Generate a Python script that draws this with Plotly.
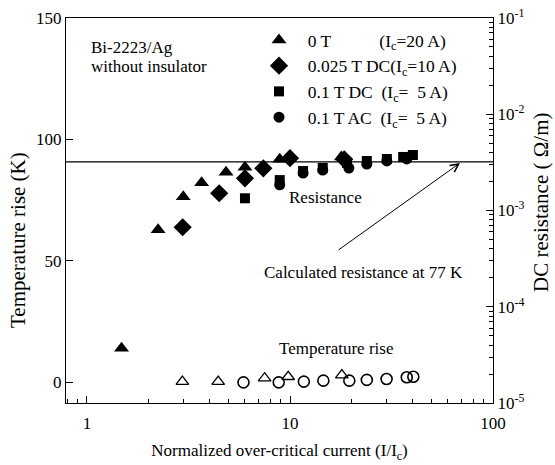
import plotly.graph_objects as go

# ---------------- data ----------------
# Resistance (filled markers, right log axis)
TRI_X_R = [1.48, 2.24, 2.98, 3.67, 4.84, 6.0, 8.9, 17.9]
TRI_R = [3.7e-5, 6.3e-4, 1.39e-3, 1.94e-3, 2.49e-3, 2.81e-3, 3.4e-3, 3.6e-3]

DIA_X_R = [2.96, 4.48, 6.0, 7.39, 10.0, 18.5]
DIA_R = [6.7e-4, 1.51e-3, 2.16e-3, 2.74e-3, 3.5e-3, 3.4e-3]

SQ_X_R = [6.0, 8.9, 11.6, 14.5, 19.1, 23.9, 30.0, 36.1, 40.3]
SQ_R = [1.34e-3, 2.07e-3, 2.57e-3, 2.77e-3, 3.12e-3, 3.27e-3, 3.43e-3, 3.6e-3, 3.77e-3]

CIR_X_R = [8.9, 11.6, 14.5, 19.5, 23.9, 30.0, 37.6]
CIR_R = [1.85e-3, 2.45e-3, 2.63e-3, 2.76e-3, 3.04e-3, 3.27e-3, 3.43e-3]

# Temperature rise (open markers, left linear axis)
TRI_X_T = [2.95, 4.43, 7.5, 9.8, 18.0]
TRI_T = [0.3, 0.3, 1.7, 2.3, 3.0]

CIR_X_T = [5.9, 8.8, 11.7, 14.6, 19.6, 23.9, 29.9, 37.6, 40.5]
CIR_T = [0.0, 0.0, 0.3, 0.7, 0.7, 1.0, 1.4, 2.1, 2.3]

CALC_R = 3.2e-3  # calculated resistance at 77 K

NB = "\u00a0"
SERIES_NAMES = [
    NB * 2 + "0 T" + NB * 11 + "(I<sub>c</sub>=20 A)",
    NB * 2 + "0.025 T DC(I<sub>c</sub>=10 A)",
    NB * 2 + "0.1 T DC" + NB * 2 + "(I<sub>c</sub>=" + NB * 2 + "5 A)",
    NB * 2 + "0.1 T AC" + NB * 2 + "(I<sub>c</sub>=" + NB * 2 + "5 A)",
]

X_TICKVALS = [1, 10, 100]
X_TICKTEXT = ["1", "10", "100"]
Y_TICKVALS = [0, 50, 100, 150]
Y2_TICKVALS = [1e-5, 1e-4, 1e-3, 1e-2, 1e-1]
Y2_TICKTEXT = ["10<sup>-5</sup>", "10<sup>-4</sup>", "10<sup>-3</sup>",
               "10<sup>-2</sup>", "10<sup>-1</sup>"]

FONT = "Liberation Serif, Times New Roman, serif"

W, H = 555, 465
# plot-area edges in pixels
L, R, T, B = 66, 493, 18, 403


def px(xp):
    return (xp - L) / (R - L)


def py(yp):
    return 1 - (yp - T) / (B - T)


fig = go.Figure()

# filled (resistance) traces on y2
fig.add_trace(go.Scatter(x=TRI_X_R, y=TRI_R, mode="markers", yaxis="y2",
                         name=SERIES_NAMES[0], legendgroup="a",
                         marker=dict(symbol="triangle-up", size=13, color="black")))
fig.add_trace(go.Scatter(x=DIA_X_R, y=DIA_R, mode="markers", yaxis="y2",
                         name=SERIES_NAMES[1], legendgroup="b",
                         marker=dict(symbol="diamond", size=14, color="black")))
fig.add_trace(go.Scatter(x=SQ_X_R, y=SQ_R, mode="markers", yaxis="y2",
                         name=SERIES_NAMES[2], legendgroup="c",
                         marker=dict(symbol="square", size=10, color="black")))
fig.add_trace(go.Scatter(x=CIR_X_R, y=CIR_R, mode="markers", yaxis="y2",
                         name=SERIES_NAMES[3], legendgroup="d",
                         marker=dict(symbol="circle", size=11, color="black")))

# open (temperature) traces on y
fig.add_trace(go.Scatter(x=TRI_X_T, y=TRI_T, mode="markers", showlegend=False,
                         marker=dict(symbol="triangle-up-open", size=11, color="black",
                                     line=dict(width=1.3))))
fig.add_trace(go.Scatter(x=CIR_X_T, y=CIR_T, mode="markers", showlegend=False,
                         marker=dict(symbol="circle-open", size=11, color="black",
                                     line=dict(width=1.6))))

# calculated resistance line
fig.add_shape(type="line", xref="paper", x0=0, x1=1, yref="y2",
              y0=CALC_R, y1=CALC_R, line=dict(color="black", width=1.3))

ann_font = dict(family=FONT, size=17, color="black")


def label(text, xp, yp, xanchor="center", **kw):
    fig.add_annotation(text=text, xref="paper", yref="paper", x=px(xp), y=py(yp),
                       xanchor=xanchor, yanchor="middle", showarrow=False,
                       font=kw.pop("font", ann_font), **kw)


label("Bi-2223/Ag", 89, 47, xanchor="left")
label("without insulator", 89, 66, xanchor="left")
label("Resistance", 325, 198)
label("Temperature rise", 336, 348)
label("Calculated resistance at 77 K", 363, 272)

# arrow
fig.add_annotation(text="", xref="paper", yref="paper", axref="pixel", ayref="pixel",
                   x=px(460), y=py(163), ax=-123, ay=88, showarrow=True,
                   arrowhead=5, arrowsize=1.6, arrowwidth=1, arrowcolor="black")

# y-axis titles
title_font = dict(family=FONT, size=21, color="black")
label("Temperature rise (K)", 18, 240, textangle=-90, font=title_font)
label("DC resistance ( \u03a9/m)", 541, 203, textangle=-90, font=title_font)

axis_common = dict(showline=True, linecolor="black", linewidth=1.3, automargin=False,
                   ticks="inside", tickcolor="black", showgrid=False, zeroline=False,
                   ticklabeloverflow="allow",
                   tickfont=dict(family=FONT, size=17, color="black"))

fig.update_layout(
    width=W, height=H,
    margin=dict(l=L, r=W - R, t=T, b=H - B),
    paper_bgcolor="white", plot_bgcolor="white",
    font=dict(family=FONT, size=17, color="black"),
    xaxis=dict(type="log", range=[-0.1034, 2.0], tickvals=X_TICKVALS, ticktext=X_TICKTEXT,
               ticklen=7, mirror=True, ticklabelstandoff=4,
               minor=dict(ticks="inside", ticklen=4, tickcolor="black", dtick="D1"),
               title=dict(text="Normalized over-critical current (I/I<sub>c</sub>)",
                          font=dict(family=FONT, size=17), standoff=12),
               **axis_common),
    yaxis=dict(range=[-8.5, 150], tickvals=Y_TICKVALS, ticklen=7,
               **axis_common),
    yaxis2=dict(type="log", range=[-5, -1], overlaying="y", side="right",
                tickvals=Y2_TICKVALS, ticktext=Y2_TICKTEXT, ticklen=7,
                minor=dict(ticks="inside", ticklen=4, tickcolor="black", dtick="D1"),
                **axis_common),
    legend=dict(x=px(259), y=py(22), xanchor="left", yanchor="top",
                bgcolor="rgba(0,0,0,0)", font=dict(family=FONT, size=17.5, color="black"),
                traceorder="grouped", tracegroupgap=0, itemwidth=30),
    showlegend=True,
)

# remove the default 8px body margin so the figure fills the window exactly
fig.write_html("out.html", config={"displayModeBar": False},
               post_script="document.body.style.margin='0';")
